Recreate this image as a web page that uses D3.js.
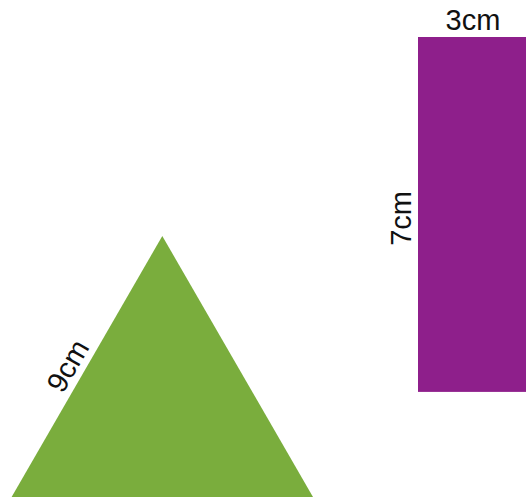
<!DOCTYPE html>
<html>
<head>
<meta charset="utf-8">
<script src="https://cdn.jsdelivr.net/npm/d3@7"></script>
<style>
	html, body { margin: 0; padding: 0; background: #fff; overflow: hidden; }
	text { font-family: "Liberation Sans", Arial, sans-serif; fill: #111; }
</style>
</head>
<body>
<svg id="svg" width="526" height="497"></svg>
<script>
// side lengths in cm
var triangleSides = [9, 9, 9]
var rectSides = [3, 7] // width, height
var labels = ["9cm", "3cm", "7cm"]
var colors = ["#7aad3d", "#8e1f8b"]

var W = 526, H = 497
var svg = d3.select("#svg")

// cm -> px
var cm = d3.scaleLinear().domain([0, 1]).range([0, 50.7])

// where the shapes sit
var apex = [162.3, 236]
var rectOrigin = [418, 37]

// equilateral triangle, apex up
var side = cm(triangleSides[0])
var tri = [
	apex,
	[apex[0] + side / 2, apex[1] + side * Math.sqrt(3) / 2],
	[apex[0] - side / 2, apex[1] + side * Math.sqrt(3) / 2]
]
svg.append("path")
	.attr("d", d3.line()(tri) + "Z")
	.style("fill", colors[0])

// rectangle
var rw = cm(rectSides[0]), rh = cm(rectSides[1])
svg.append("rect")
	.attr("x", rectOrigin[0])
	.attr("y", rectOrigin[1])
	.attr("width", rw)
	.attr("height", rh)
	.style("fill", colors[1])

// label on left side of triangle, rotated along the edge
var t = 0.35 // how far down the edge
var lx = apex[0] + (tri[2][0] - apex[0]) * t
var ly = apex[1] + (tri[2][1] - apex[1]) * t
svg.append("text")
	.attr("transform", "translate(" + lx + "," + ly + ") rotate(-60) translate(0,-7)")
	.attr("text-anchor", "middle")
	.style("font-size", "29px")
	.text(labels[0])

// width label above rect (centred on the visible part)
var visRight = Math.min(rectOrigin[0] + rw, W)
svg.append("text")
	.attr("x", (rectOrigin[0] + visRight) / 2 + 1)
	.attr("y", rectOrigin[1] - 7)
	.attr("text-anchor", "middle")
	.style("font-size", "29px")
	.text(labels[1])

// height label left of rect
svg.append("text")
	.attr("transform", "translate(" + (rectOrigin[0] - 7) + "," + (rectOrigin[1] + rh / 2 + 4) + ") rotate(-90)")
	.attr("text-anchor", "middle")
	.style("font-size", "29px")
	.text(labels[2])
</script>
</body>
</html>
